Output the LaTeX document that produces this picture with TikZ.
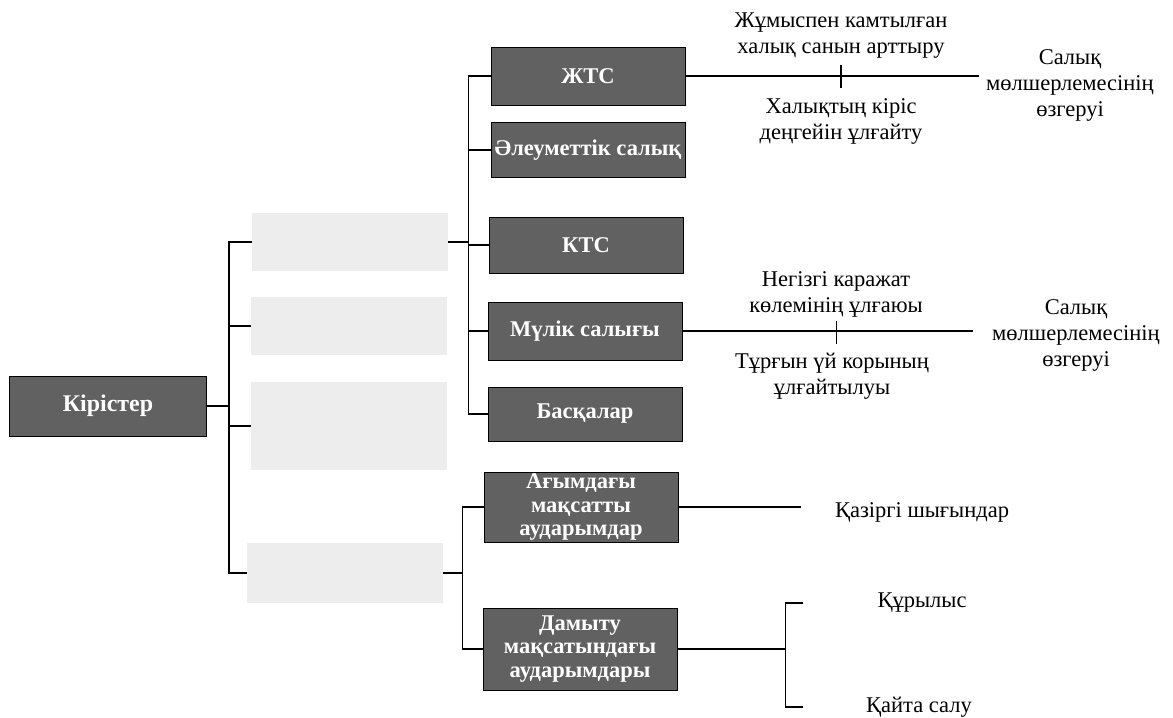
\documentclass[tikz,border=0pt]{standalone}
\usepackage{fontspec}
\setmainfont{Liberation Serif}
\usetikzlibrary{positioning,calc}

\begin{document}
\begin{tikzpicture}[x=0.025cm, y=-0.025cm,
  dbox/.style={rectangle, draw=black, fill=black!62, text=white,
               font=\fontsize{16}{16.5}\selectfont\bfseries,
               minimum width=4.85cm, minimum height=1.45cm,
               align=center, inner sep=1pt},
  pale/.style={rectangle, fill=black!7, minimum width=4.9cm,
               minimum height=1.45cm},
  note/.style={font=\fontsize{16}{18.5}\selectfont, align=center, inner sep=1pt},
  link/.style={draw, line width=1.1pt},
]
  \useasboundingbox (0,0) rectangle (1173,718);

  % Root
  \node[dbox, minimum width=4.93cm, minimum height=1.5cm,
        font=\fontsize{17}{17}\selectfont\bfseries] (kir) at (108,406) {Кірістер};

  % Faded first level
  \node[pale] (fa) at (350,242) {};
  \node[pale] (fb) at (349,326) {};
  \node[pale, minimum height=2.2cm] (fc) at (349,426) {};
  \node[pale, minimum height=1.5cm] (fd) at (345,573) {};

  % Second level
  \node[dbox] (jts) at (588,76) {ЖТС};
  \node[dbox, minimum height=1.38cm] (aleu) at (588,150) {Әлеуметтік салық};
  \node[dbox, minimum height=1.4cm] (kts) at (586,245) {КТС};
  \node[dbox] (mulik) at (585,331) {Мүлік салығы};
  \node[dbox, minimum height=1.35cm] (baska) at (585,414) {Басқалар};
  \node[dbox, minimum height=1.75cm] (agym) at (581,507) {Ағымдағы\\мақсатты\\аударымдар};
  \node[dbox, minimum height=2.05cm] (damytu) at (580,649) {Дамыту\\мақсатындағы\\аударымдары};

  % Forks
  \foreach \c in {fa,fb,fc,fd}
    \draw[link] (kir.east) -- ++(22,0) |- (\c.west);
  \foreach \c in {jts,aleu,kts,mulik,baska}
    \draw[link] (fa.east) -- ++(20,0) |- (\c.west);
  \foreach \c in {agym,damytu}
    \draw[link] (fd.east) -- ++(19,0) |- (\c.west);

  % ЖТС factors
  \node[note] (jumys) at (841,36) {Жұмыспен камтылған\\халық санын арттыру};
  \node[note] (halyq) at (841,121) {Халықтың кіріс\\деңгейін ұлғайту};
  \node[note] (sala) at (1070,85) {Салық\\мөлшерлемесінің\\өзгеруі};
  \draw[link, shorten >=0.15cm] (jts.east) -- coordinate[pos=0.52] (ma) (jts.east -| sala.west);
  \draw[link] ($(ma)+(0,-11)$) -- ($(ma)+(0,12)$);

  % Мүлік салығы factors
  \node[note] (negiz) at (836,294) {Негізгі каражат\\көлемінің ұлғаюы};
  \node[note] (turgyn) at (832,376) {Тұрғын үй корының\\ұлғайтылуы};
  \node[note] (salb) at (1076,335) {Салық\\мөлшерлемесінің\\өзгеруі};
  \draw[link, shorten >=0.45cm] (mulik.east) -- coordinate[pos=0.5] (mb) (mulik.east -| salb.west);
  \draw[link] ($(mb)+(0,-10)$) -- ($(mb)+(0,13)$);

  % Transfers
  \node[note] (qaz) at (922,512) {Қазіргі шығындар};
  \draw[link, shorten >=0.8cm] (agym.east) -- (agym.east -| qaz.west);

  \node[note] (qur) at (922,603) {Құрылыс};
  \node[note] (qait) at (919,707) {Қайта салу};
  \draw[link] (damytu.east) -- ++(108,0) coordinate (br);
  \draw[link] ($(br |- qur)+(18,0)$) -- (br |- qur) -- (br |- qait) -- ++(18,0);

\end{tikzpicture}
\end{document}
